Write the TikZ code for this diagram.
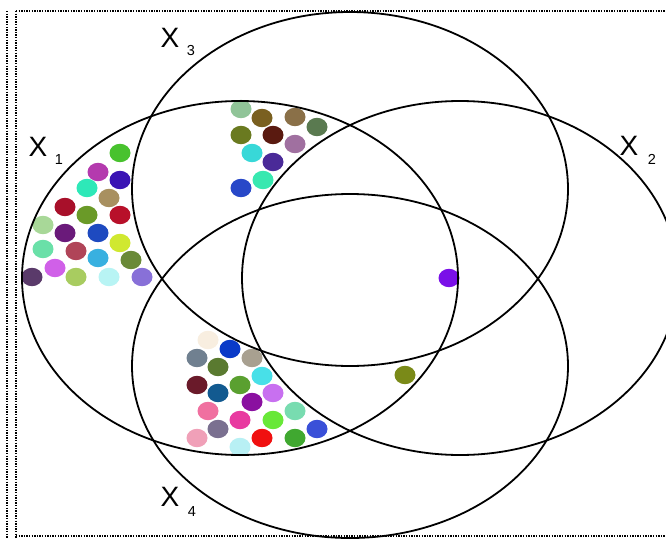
\documentclass[tikz,border=0pt]{standalone}
\usepackage{fontspec}
\setmainfont{Liberation Sans}
\begin{document}
\begin{tikzpicture}[x=1pt,y=-1pt]
\tikzset{
  venn/.style={draw=black,line width=1.8pt},
  frameline/.style={draw=black,line width=1.3pt,dash pattern=on 1.3pt off 1.3pt},
  bigx/.style={inner sep=0pt,font=\fontsize{28}{28}\selectfont},
  subx/.style={inner sep=0pt,font=\fontsize{14.5}{14.5}\selectfont}
}
\useasboundingbox (0,0) rectangle (666,538);
\fill[white] (0,0) rectangle (666,538);
% frame
\coordinate (fa) at (7,11);  \coordinate (fb) at (7,538);
\coordinate (fc) at (16,11); \coordinate (fd) at (16,538);
\coordinate (fe) at (666,11); \coordinate (ff) at (16,536); \coordinate (fg) at (666,536);
\draw[frameline] (fa) -- (fb);
\draw[frameline] (fc) -- (fd);
\draw[frameline] (fc) -- (fe);
\draw[frameline] (ff) -- (fg);
% dots
\foreach \px/\py/\c in {
 120/153/48C22E, 98/172/B43AAE, 120/180/3A14B4, 87/188/2EE8B8, 109/198/A89060,
 65/207/A8102A, 87/215/6A9A28, 120/215/B8102A, 43/225/A8D898, 65/233/6A1A7A,
 98/233/1E4AC0, 120/243/D0E830, 43/249/6AE0A8, 76/251/B04458, 98/258/38B0E0,
 131/260/6A8A38, 55/268/D060E8, 32/277/5A3A6A, 76/277/A8CC60, 109/277/B8F4F4,
 142/277/8870D8,
 241/109/90C498, 262/118/7A6020, 295/117/8A7048, 317/127/5A7A50, 241/135/6A7A20,
 273/135/5A1A10, 295/144/A070A0, 252/153/38D8D8, 273/162/4A2A98, 263/180/38E8B0,
 241/188/2848C8,
 208/340/F8EEE0, 230/349/0A3AC8, 197/358/708090, 252/358/A8A090, 218/367/5A7A30,
 262/376/48E0E8, 197/385/6A1A2A, 240/385/5AA030, 218/393/125A90, 273/393/C870F0,
 252/402/8A10A0, 208/411/F070A0, 240/420/E83AA0, 273/420/68E838, 295/411/78DCB0,
 218/429/7A7090, 317/429/3A50D8, 197/438/F0A0B8, 262/438/F01010, 295/438/40A830,
 240/447/B8F0F4,
 449/278/7A10E8, 405/375/7A8A18}
{
  \definecolor{dotc}{HTML}{\c}
  \fill[dotc] (\px,\py) ellipse [x radius=10.5pt, y radius=9.2pt];
}
% ellipses
\coordinate (c1) at (240,278);
\coordinate (c2) at (460,278);
\coordinate (c3) at (350,189);
\coordinate (c4) at (350,366);
\draw[venn] (c1) ellipse [x radius=218pt, y radius=177pt];
\draw[venn] (c2) ellipse [x radius=218pt, y radius=177pt];
\draw[venn] (c3) ellipse [x radius=218pt, y radius=177pt];
\draw[venn] (c4) ellipse [x radius=218pt, y radius=172pt];
% labels
\node[bigx] (x3) at (170,38) {X};
\node[subx] (s3) at (191,51) {3};
\node[bigx] (x1) at (38,147) {X};
\node[subx] (s1) at (59,160) {1};
\node[bigx] (x2) at (629,146) {X};
\node[subx] (s2) at (652,159) {2};
\node[bigx] (x4) at (170,497) {X};
\node[subx] (s4) at (192,512) {4};
\end{tikzpicture}
\end{document}
